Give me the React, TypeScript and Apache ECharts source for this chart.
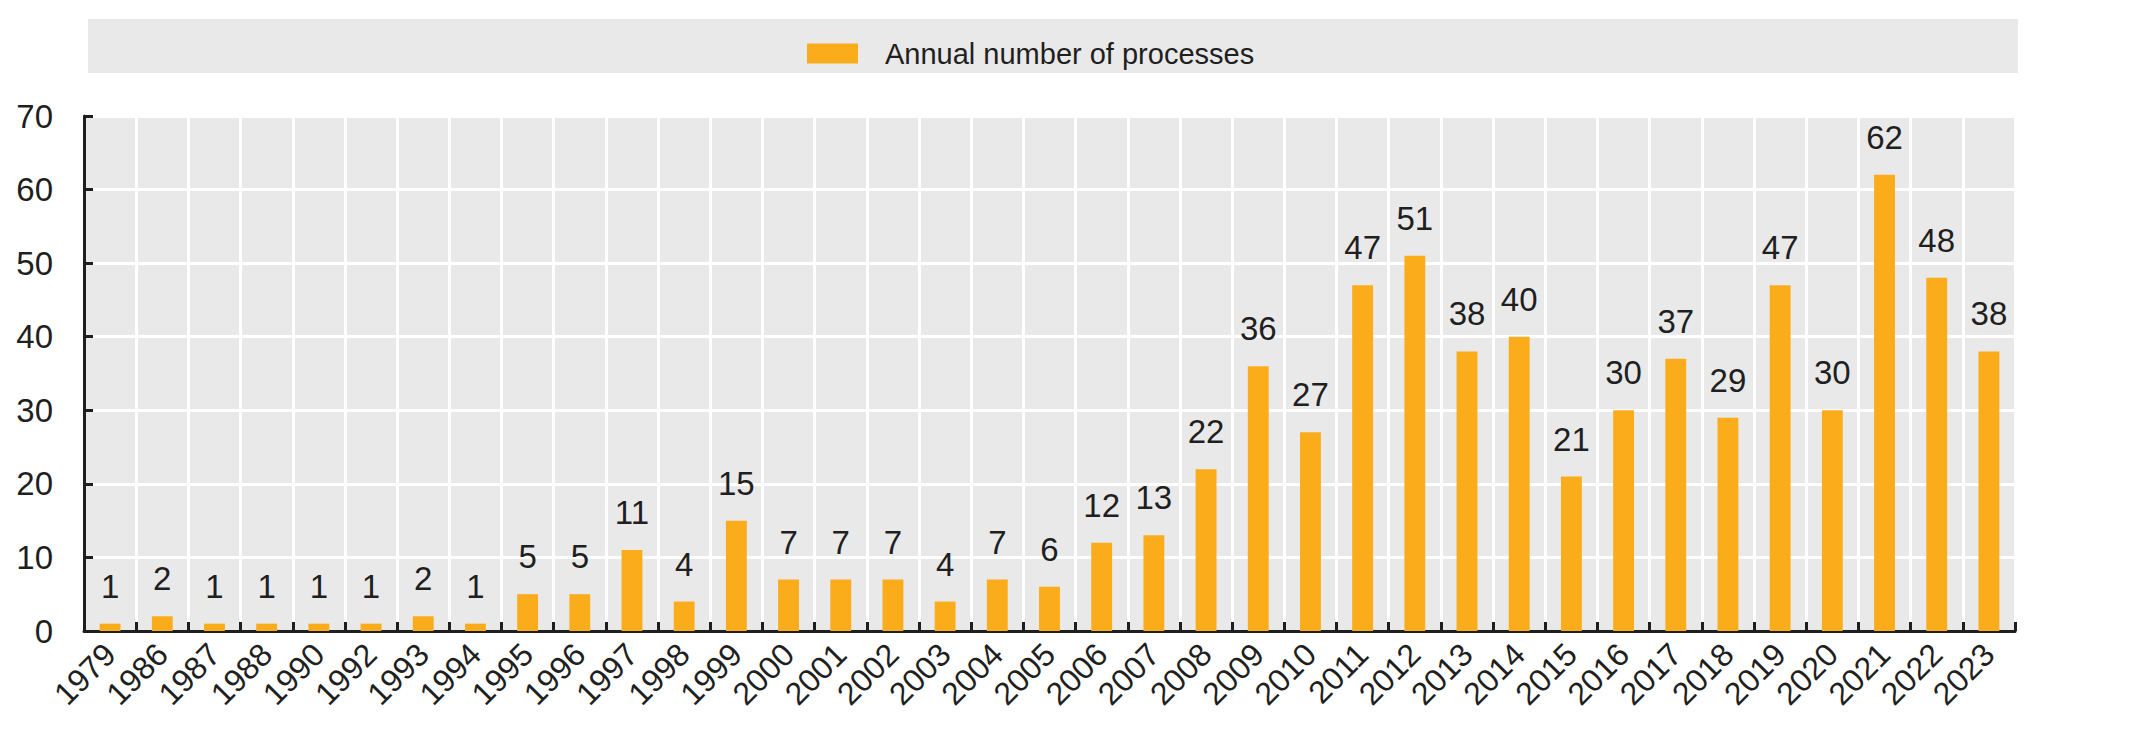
import { useEffect, useRef } from 'react';
import * as echarts from 'echarts';

const years = [
  '1979', '1986', '1987', '1988', '1990', '1992', '1993', '1994', '1995', '1996',
  '1997', '1998', '1999', '2000', '2001', '2002', '2003', '2004', '2005', '2006',
  '2007', '2008', '2009', '2010', '2011', '2012', '2013', '2014', '2015', '2016',
  '2017', '2018', '2019', '2020', '2021', '2022', '2023',
];

const processes = [
  1, 2, 1, 1, 1, 1, 2, 1, 5, 5,
  11, 4, 15, 7, 7, 7, 4, 7, 6, 12,
  13, 22, 36, 27, 47, 51, 38, 40, 21, 30,
  37, 29, 47, 30, 62, 48, 38,
];

const seriesName = 'Annual number of processes';

// narrow face is not installed here, falls back to Liberation Sans
const NUM_FONT = "'Liberation Sans Narrow', 'Arial Narrow', 'Liberation Sans', Arial, sans-serif";
const REGULAR = "'Liberation Sans', Arial, Helvetica, sans-serif";
const INK = '#1f1f1f';
const BAR = '#fbac1a';

export default function App() {
  const ref = useRef<HTMLDivElement>(null);

  useEffect(() => {
    if (!ref.current) return;
    const chart = echarts.init(ref.current, undefined, { renderer: 'svg' });

    chart.setOption({
      animation: false,
      backgroundColor: '#ffffff',
      graphic: [
        {
          type: 'rect',
          z: -10,
          shape: { x: 88, y: 19, width: 1930, height: 54 },
          style: { fill: '#e9e9e9' },
        },
      ],
      legend: {
        left: 802,
        top: 34,
        icon: 'rect',
        itemWidth: 51,
        itemHeight: 20,
        data: [seriesName],
        textStyle: {
          fontFamily: REGULAR,
          fontSize: 29,
          lineHeight: 20,
          color: INK,
          padding: [0, 0, 0, 22],
        },
      },
      grid: {
        left: 84,
        right: 120,
        top: 116,
        bottom: 115,
        show: true,
        backgroundColor: '#e9e9e9',
        borderWidth: 0,
      },
      xAxis: {
        type: 'category',
        data: years,
        axisLine: { lineStyle: { color: INK, width: 3 } },
        axisTick: { show: true, inside: true, length: 9, interval: 0, lineStyle: { color: INK, width: 3 } },
        splitLine: { show: true, interval: 0, lineStyle: { color: '#ffffff', width: 3 } },
        axisLabel: {
          interval: 0,
          rotate: 45,
          margin: 18,
          fontFamily: NUM_FONT,
          fontSize: 32,
          color: INK,
        },
      },
      yAxis: {
        type: 'value',
        min: 0,
        max: 70,
        interval: 10,
        axisLine: { show: true, lineStyle: { color: INK, width: 3 } },
        axisTick: { show: true, inside: true, length: 9, lineStyle: { color: INK, width: 3 } },
        splitLine: { show: true, lineStyle: { color: '#ffffff', width: 3 } },
        axisLabel: {
          margin: 31,
          fontFamily: NUM_FONT,
          fontSize: 33,
          color: INK,
        },
      },
      series: [
        {
          name: seriesName,
          type: 'bar',
          data: processes,
          barWidth: '40%',
          itemStyle: { color: BAR },
          label: {
            show: true,
            position: 'top',
            distance: 21,
            fontFamily: NUM_FONT,
            fontSize: 33,
            color: INK,
          },
        },
      ],
    });

    return () => {
      chart.dispose();
    };
  }, []);

  return (
    <div
      ref={ref}
      style={{ position: 'fixed', left: 0, top: 0, width: 2135, height: 746 }}
    />
  );
}
